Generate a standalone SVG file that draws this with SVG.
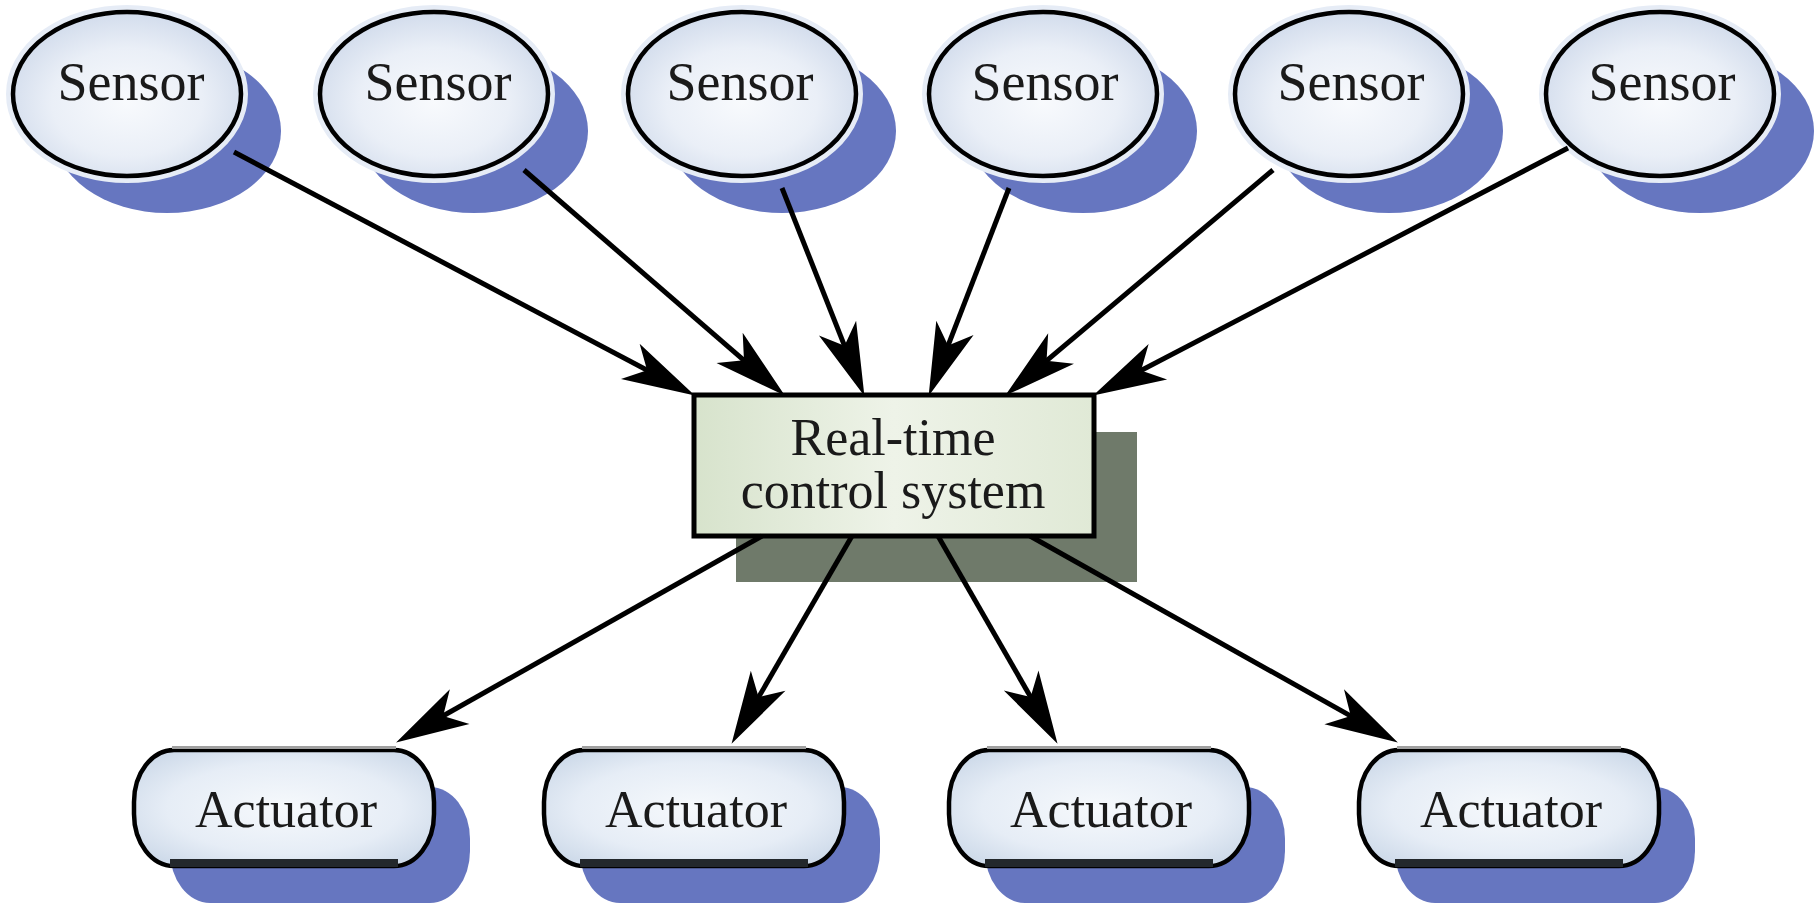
<svg xmlns="http://www.w3.org/2000/svg" width="1816" height="904" viewBox="0 0 1816 904">
<defs>
<radialGradient id="gS" cx="50%" cy="55%" r="55%">
<stop offset="0" stop-color="#f8fafd"/>
<stop offset="0.6" stop-color="#eaeff7"/>
<stop offset="1" stop-color="#d2dcec"/>
</radialGradient>
<radialGradient id="gA" cx="50%" cy="50%" r="60%">
<stop offset="0" stop-color="#f6f9fc"/>
<stop offset="0.65" stop-color="#e6edf6"/>
<stop offset="1" stop-color="#cfdbea"/>
</radialGradient>
<linearGradient id="gB" x1="0" y1="0" x2="1" y2="0">
<stop offset="0" stop-color="#d7e3cc"/>
<stop offset="0.5" stop-color="#eef3e8"/>
<stop offset="1" stop-color="#e0e9d6"/>
</linearGradient>
<marker id="ah" markerUnits="userSpaceOnUse" markerWidth="90" markerHeight="50" refX="0" refY="0" viewBox="-40 -25 90 50" orient="auto" overflow="visible">
<path d="M41,0 L-32,-20 L-13,0 L-32,20 Z" fill="#000"/>
</marker>
</defs>
<style>
.sh{fill:#6676c0}
.halo{fill:none;stroke:#e6ecf6;stroke-width:14}
.sen{fill:url(#gS);stroke:#000;stroke-width:4.5}
.act{fill:url(#gA);stroke:#000;stroke-width:4.5}
.top{stroke:#a0a0a0;stroke-width:3}
.bot{stroke:#23282c;stroke-width:8}
.lbl{font-family:"Liberation Serif","Times New Roman",serif;font-size:52px;fill:#1a1a1a;text-anchor:middle}
.sl{font-size:54px}
.c{fill:none;stroke:#000;stroke-width:5;marker-end:url(#ah)}
</style>
<rect width="1816" height="904" fill="#fff"/>

<g id="sensor1">
<ellipse class="sh" cx="167" cy="131" rx="114" ry="82"/>
<ellipse class="halo" cx="127" cy="94" rx="114" ry="82"/>
<ellipse class="sen" cx="127" cy="94" rx="114" ry="82"/>
<text class="lbl sl" x="131" y="100">Sensor</text>
</g>
<g id="sensor2">
<ellipse class="sh" cx="474" cy="131" rx="114" ry="82"/>
<ellipse class="halo" cx="434" cy="94" rx="114" ry="82"/>
<ellipse class="sen" cx="434" cy="94" rx="114" ry="82"/>
<text class="lbl sl" x="438" y="100">Sensor</text>
</g>
<g id="sensor3">
<ellipse class="sh" cx="782" cy="131" rx="114" ry="82"/>
<ellipse class="halo" cx="742" cy="94" rx="114" ry="82"/>
<ellipse class="sen" cx="742" cy="94" rx="114" ry="82"/>
<text class="lbl sl" x="740" y="100">Sensor</text>
</g>
<g id="sensor4">
<ellipse class="sh" cx="1083" cy="131" rx="114" ry="82"/>
<ellipse class="halo" cx="1043" cy="94" rx="114" ry="82"/>
<ellipse class="sen" cx="1043" cy="94" rx="114" ry="82"/>
<text class="lbl sl" x="1045" y="100">Sensor</text>
</g>
<g id="sensor5">
<ellipse class="sh" cx="1389" cy="131" rx="114" ry="82"/>
<ellipse class="halo" cx="1349" cy="94" rx="114" ry="82"/>
<ellipse class="sen" cx="1349" cy="94" rx="114" ry="82"/>
<text class="lbl sl" x="1351" y="100">Sensor</text>
</g>
<g id="sensor6">
<ellipse class="sh" cx="1700" cy="131" rx="114" ry="82"/>
<ellipse class="halo" cx="1660" cy="94" rx="114" ry="82"/>
<ellipse class="sen" cx="1660" cy="94" rx="114" ry="82"/>
<text class="lbl sl" x="1662" y="100">Sensor</text>
</g>

<g id="controller">
<rect x="736" y="432" width="401" height="150" fill="#6f7a6a"/>
<rect x="694" y="395" width="400" height="141" fill="url(#gB)" stroke="#000" stroke-width="5"/>
<text class="lbl" x="893" y="455">Real-time</text>
<text class="lbl" x="893" y="508">control system</text>
</g>

<g id="actuator1">
<rect class="sh" x="170" y="787" width="300" height="116" rx="40" ry="52"/>
<rect class="act" x="134" y="750" width="300" height="116" rx="40" ry="52"/>
<line class="top" x1="172" y1="747.5" x2="396" y2="747.5"/>
<line class="bot" x1="170" y1="863" x2="398" y2="863"/>
<text class="lbl" x="286" y="827">Actuator</text>
</g>
<g id="actuator2">
<rect class="sh" x="580" y="787" width="300" height="116" rx="40" ry="52"/>
<rect class="act" x="544" y="750" width="300" height="116" rx="40" ry="52"/>
<line class="top" x1="582" y1="747.5" x2="806" y2="747.5"/>
<line class="bot" x1="580" y1="863" x2="808" y2="863"/>
<text class="lbl" x="696" y="827">Actuator</text>
</g>
<g id="actuator3">
<rect class="sh" x="985" y="787" width="300" height="116" rx="40" ry="52"/>
<rect class="act" x="949" y="750" width="300" height="116" rx="40" ry="52"/>
<line class="top" x1="987" y1="747.5" x2="1211" y2="747.5"/>
<line class="bot" x1="985" y1="863" x2="1213" y2="863"/>
<text class="lbl" x="1101" y="827">Actuator</text>
</g>
<g id="actuator4">
<rect class="sh" x="1395" y="787" width="300" height="116" rx="40" ry="52"/>
<rect class="act" x="1359" y="750" width="300" height="116" rx="40" ry="52"/>
<line class="top" x1="1397" y1="747.5" x2="1621" y2="747.5"/>
<line class="bot" x1="1395" y1="863" x2="1623" y2="863"/>
<text class="lbl" x="1511" y="827">Actuator</text>
</g>

<g id="connectors">
<path class="c" d="M234,152 L658.6,376.3"/>
<path class="c" d="M524,170 L753.8,368.8"/>
<path class="c" d="M782,188 L849.3,357.8"/>
<path class="c" d="M1009,188 L943.4,357.7"/>
<path class="c" d="M1273,170 L1036.6,369.2"/>
<path class="c" d="M1568,148 L1129.5,376.5"/>
<path class="c" d="M762,536 L431.8,722.3"/>
<path class="c" d="M852,536 L752.1,708.4"/>
<path class="c" d="M938,536 L1037.1,708.3"/>
<path class="c" d="M1030,536 L1362.1,722.4"/>
</g>
</svg>
